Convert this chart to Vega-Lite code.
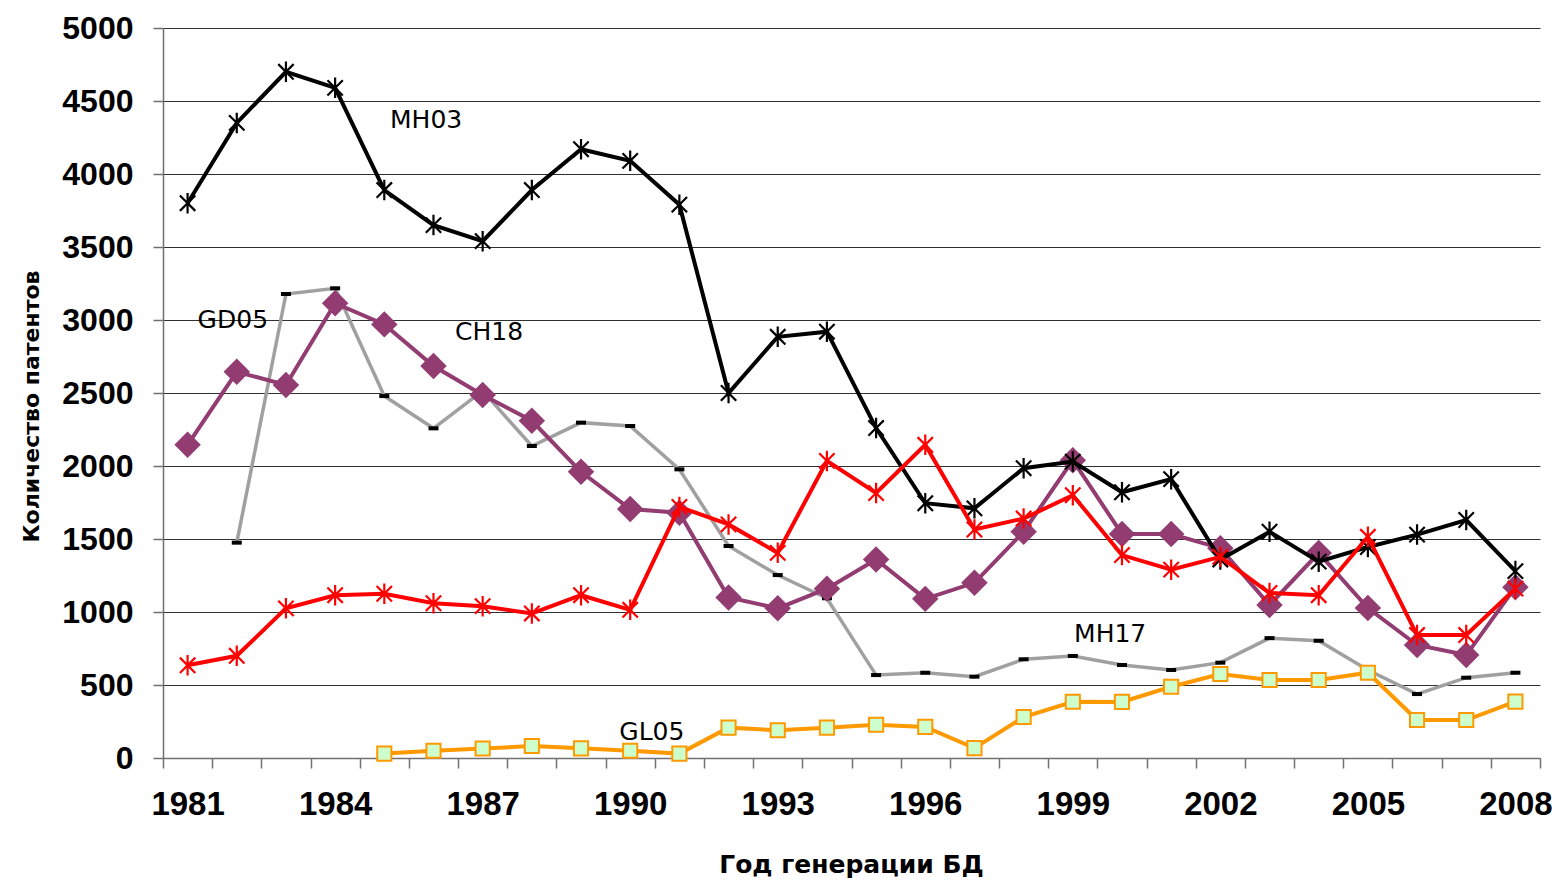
{
  "$schema": "https://vega.github.io/schema/vega-lite/v6.json",
  "width": 1377,
  "height": 730,
  "autosize": {"type": "none"},
  "padding": {"left": 163, "top": 28, "right": 18, "bottom": 124},
  "background": "white",
  "config": {"view": {"stroke": null}},
  "datasets": {
    "series": [
      {"s":"MH03","year":1981,"value":3800},{"s":"MH03","year":1982,"value":4350},{"s":"MH03","year":1983,"value":4700},{"s":"MH03","year":1984,"value":4590},{"s":"MH03","year":1985,"value":3890},{"s":"MH03","year":1986,"value":3650},{"s":"MH03","year":1987,"value":3540},{"s":"MH03","year":1988,"value":3890},{"s":"MH03","year":1989,"value":4170},{"s":"MH03","year":1990,"value":4090},{"s":"MH03","year":1991,"value":3790},{"s":"MH03","year":1992,"value":2500},{"s":"MH03","year":1993,"value":2885},{"s":"MH03","year":1994,"value":2920},{"s":"MH03","year":1995,"value":2260},{"s":"MH03","year":1996,"value":1745},{"s":"MH03","year":1997,"value":1710},{"s":"MH03","year":1998,"value":1985},{"s":"MH03","year":1999,"value":2030},{"s":"MH03","year":2000,"value":1820},{"s":"MH03","year":2001,"value":1910},{"s":"MH03","year":2002,"value":1360},{"s":"MH03","year":2003,"value":1550},{"s":"MH03","year":2004,"value":1345},{"s":"MH03","year":2005,"value":1445},{"s":"MH03","year":2006,"value":1530},{"s":"MH03","year":2007,"value":1630},{"s":"MH03","year":2008,"value":1280},
      {"s":"GD05","year":1981,"value":635},{"s":"GD05","year":1982,"value":700},{"s":"GD05","year":1983,"value":1025},{"s":"GD05","year":1984,"value":1115},{"s":"GD05","year":1985,"value":1125},{"s":"GD05","year":1986,"value":1060},{"s":"GD05","year":1987,"value":1040},{"s":"GD05","year":1988,"value":990},{"s":"GD05","year":1989,"value":1115},{"s":"GD05","year":1990,"value":1015},{"s":"GD05","year":1991,"value":1720},{"s":"GD05","year":1992,"value":1600},{"s":"GD05","year":1993,"value":1405},{"s":"GD05","year":1994,"value":2035},{"s":"GD05","year":1995,"value":1815},{"s":"GD05","year":1996,"value":2145},{"s":"GD05","year":1997,"value":1565},{"s":"GD05","year":1998,"value":1640},{"s":"GD05","year":1999,"value":1800},{"s":"GD05","year":2000,"value":1390},{"s":"GD05","year":2001,"value":1290},{"s":"GD05","year":2002,"value":1378},{"s":"GD05","year":2003,"value":1130},{"s":"GD05","year":2004,"value":1115},{"s":"GD05","year":2005,"value":1515},{"s":"GD05","year":2006,"value":842},{"s":"GD05","year":2007,"value":842},{"s":"GD05","year":2008,"value":1160},
      {"s":"CH18","year":1981,"value":2145},{"s":"CH18","year":1982,"value":2645},{"s":"CH18","year":1983,"value":2555},{"s":"CH18","year":1984,"value":3115},{"s":"CH18","year":1985,"value":2970},{"s":"CH18","year":1986,"value":2685},{"s":"CH18","year":1987,"value":2486},{"s":"CH18","year":1988,"value":2310},{"s":"CH18","year":1989,"value":1960},{"s":"CH18","year":1990,"value":1705},{"s":"CH18","year":1991,"value":1680},{"s":"CH18","year":1992,"value":1100},{"s":"CH18","year":1993,"value":1025},{"s":"CH18","year":1994,"value":1160},{"s":"CH18","year":1995,"value":1360},{"s":"CH18","year":1996,"value":1090},{"s":"CH18","year":1997,"value":1200},{"s":"CH18","year":1998,"value":1550},{"s":"CH18","year":1999,"value":2040},{"s":"CH18","year":2000,"value":1534},{"s":"CH18","year":2001,"value":1534},{"s":"CH18","year":2002,"value":1437},{"s":"CH18","year":2003,"value":1048},{"s":"CH18","year":2004,"value":1404},{"s":"CH18","year":2005,"value":1027},{"s":"CH18","year":2006,"value":774},{"s":"CH18","year":2007,"value":705},{"s":"CH18","year":2008,"value":1170},
      {"s":"MH17","year":1982,"value":1475},{"s":"MH17","year":1983,"value":3178},{"s":"MH17","year":1984,"value":3217},{"s":"MH17","year":1985,"value":2479},{"s":"MH17","year":1986,"value":2258},{"s":"MH17","year":1987,"value":2514},{"s":"MH17","year":1988,"value":2137},{"s":"MH17","year":1989,"value":2297},{"s":"MH17","year":1990,"value":2274},{"s":"MH17","year":1991,"value":1977},{"s":"MH17","year":1992,"value":1452},{"s":"MH17","year":1993,"value":1253},{"s":"MH17","year":1994,"value":1094},{"s":"MH17","year":1995,"value":568},{"s":"MH17","year":1996,"value":584},{"s":"MH17","year":1997,"value":557},{"s":"MH17","year":1998,"value":676},{"s":"MH17","year":1999,"value":699},{"s":"MH17","year":2000,"value":637},{"s":"MH17","year":2001,"value":603},{"s":"MH17","year":2002,"value":653},{"s":"MH17","year":2003,"value":821},{"s":"MH17","year":2004,"value":803},{"s":"MH17","year":2005,"value":603},{"s":"MH17","year":2006,"value":438},{"s":"MH17","year":2007,"value":550},{"s":"MH17","year":2008,"value":584},
      {"s":"GL05","year":1985,"value":30},{"s":"GL05","year":1986,"value":50},{"s":"GL05","year":1987,"value":65},{"s":"GL05","year":1988,"value":82},{"s":"GL05","year":1989,"value":66},{"s":"GL05","year":1990,"value":50},{"s":"GL05","year":1991,"value":30},{"s":"GL05","year":1992,"value":208},{"s":"GL05","year":1993,"value":190},{"s":"GL05","year":1994,"value":208},{"s":"GL05","year":1995,"value":228},{"s":"GL05","year":1996,"value":213},{"s":"GL05","year":1997,"value":68},{"s":"GL05","year":1998,"value":281},{"s":"GL05","year":1999,"value":385},{"s":"GL05","year":2000,"value":384},{"s":"GL05","year":2001,"value":488},{"s":"GL05","year":2002,"value":575},{"s":"GL05","year":2003,"value":534},{"s":"GL05","year":2004,"value":534},{"s":"GL05","year":2005,"value":584},{"s":"GL05","year":2006,"value":260},{"s":"GL05","year":2007,"value":260},{"s":"GL05","year":2008,"value":386}
    ],
    "labels": [
      {"label":"MH03","year":1985.85,"value":4370},
      {"label":"GD05","year":1981.92,"value":3000},
      {"label":"CH18","year":1987.13,"value":2918},
      {"label":"MH17","year":1999.76,"value":849},
      {"label":"GL05","year":1990.44,"value":178}
    ]
  },
  "encoding": {
    "x": {
      "field": "year", "type": "quantitative",
      "scale": {"domain": [1980.5, 2008.5], "nice": false, "zero": false},
      "axis": {
        "title": "Год генерации БД",
        "values": [1980.5,1981,1981.5,1982.5,1983.5,1984,1984.5,1985.5,1986.5,1987,1987.5,1988.5,1989.5,1990,1990.5,1991.5,1992.5,1993,1993.5,1994.5,1995.5,1996,1996.5,1997.5,1998.5,1999,1999.5,2000.5,2001.5,2002,2002.5,2003.5,2004.5,2005,2005.5,2006.5,2007.5,2008,2008.5],
        "labelExpr": "datum.value % 1 == 0 ? '' + datum.value : ''",
        "tickOpacity": {"condition": {"test": "datum.value % 1 == 0", "value": 0}, "value": 1},
        "grid": false,
        "labelOverlap": false,
        "labelFlush": false,
        "domainColor": "#707070", "domainWidth": 1.5,
        "tickColor": "#707070", "tickWidth": 1.5, "tickSize": 10,
        "labelFont": "Liberation Sans", "labelFontWeight": "bold", "labelFontSize": 33, "labelColor": "black",
        "labelPadding": 20,
        "titleFont": "DejaVu Sans", "titleFontWeight": "bold", "titleFontSize": 25, "titleColor": "black",
        "titleX": 688, "titleY": 114, "titleBaseline": "alphabetic", "titleAlign": "center"
      }
    },
    "y": {
      "field": "value", "type": "quantitative",
      "scale": {"domain": [0, 5000], "nice": false},
      "axis": {
        "title": "Количество патентов",
        "values": [0,500,1000,1500,2000,2500,3000,3500,4000,4500,5000],
        "format": "d",
        "grid": true, "gridColor": "#303030", "gridWidth": 1.2,
        "domainColor": "#707070", "domainWidth": 1.5,
        "tickColor": "#707070", "tickWidth": 1.5, "tickSize": 10,
        "labelFont": "Liberation Sans", "labelFontWeight": "bold", "labelFontSize": 32, "labelColor": "black",
        "labelPadding": 20,
        "titleFont": "DejaVu Sans", "titleFontWeight": "bold", "titleFontSize": 22, "titleColor": "black",
        "titleAngle": -90, "titleX": -132, "titleY": 378, "titleBaseline": "middle", "titleAlign": "center"
      }
    }
  },
  "layer": [
    {"data": {"name": "series"}, "transform": [{"filter": "datum.s == 'MH17'"}],
     "mark": {"type": "line", "color": "#A0A0A0", "strokeWidth": 3.5}, "encoding": {}},
    {"data": {"name": "series"}, "transform": [{"filter": "datum.s == 'MH17'"}],
     "mark": {"type": "point", "shape": "M-1,-0.4L1,-0.4L1,0.4L-1,0.4Z", "filled": true, "fill": "black", "stroke": null, "size": 100, "opacity": 1}, "encoding": {}},
    {"data": {"name": "series"}, "transform": [{"filter": "datum.s == 'GL05'"}],
     "mark": {"type": "line", "color": "#FF9900", "strokeWidth": 4}, "encoding": {}},
    {"data": {"name": "series"}, "transform": [{"filter": "datum.s == 'GL05'"}],
     "mark": {"type": "point", "shape": "square", "fill": "#CCFFCC", "stroke": "#FF9900", "strokeWidth": 2, "size": 200, "opacity": 1, "fillOpacity": 1}, "encoding": {}},
    {"data": {"name": "series"}, "transform": [{"filter": "datum.s == 'CH18'"}],
     "mark": {"type": "line", "color": "#923C72", "strokeWidth": 4}, "encoding": {}},
    {"data": {"name": "series"}, "transform": [{"filter": "datum.s == 'CH18'"}],
     "mark": {"type": "point", "shape": "diamond", "filled": true, "color": "#923C72", "size": 700, "opacity": 1}, "encoding": {}},
    {"data": {"name": "series"}, "transform": [{"filter": "datum.s == 'MH03'"}],
     "mark": {"type": "line", "color": "black", "strokeWidth": 4}, "encoding": {}},
    {"data": {"name": "series"}, "transform": [{"filter": "datum.s == 'MH03'"}],
     "mark": {"type": "point", "shape": "M0,-1L0,1M-0.75,-0.75L0.75,0.75M-0.75,0.75L0.75,-0.75", "filled": false, "color": "black", "strokeWidth": 2.2, "size": 420, "opacity": 1}, "encoding": {}},
    {"data": {"name": "series"}, "transform": [{"filter": "datum.s == 'GD05'"}],
     "mark": {"type": "line", "color": "#FF0000", "strokeWidth": 4}, "encoding": {}},
    {"data": {"name": "series"}, "transform": [{"filter": "datum.s == 'GD05'"}],
     "mark": {"type": "point", "shape": "M0,-1L0,1M-0.75,-0.75L0.75,0.75M-0.75,0.75L0.75,-0.75", "filled": false, "color": "#FF0000", "strokeWidth": 2.2, "size": 420, "opacity": 1}, "encoding": {}},
    {"data": {"name": "labels"},
     "mark": {"type": "text", "font": "DejaVu Sans", "fontSize": 25, "color": "black", "align": "center", "baseline": "middle"},
     "encoding": {"text": {"field": "label"}}}
  ]
}
